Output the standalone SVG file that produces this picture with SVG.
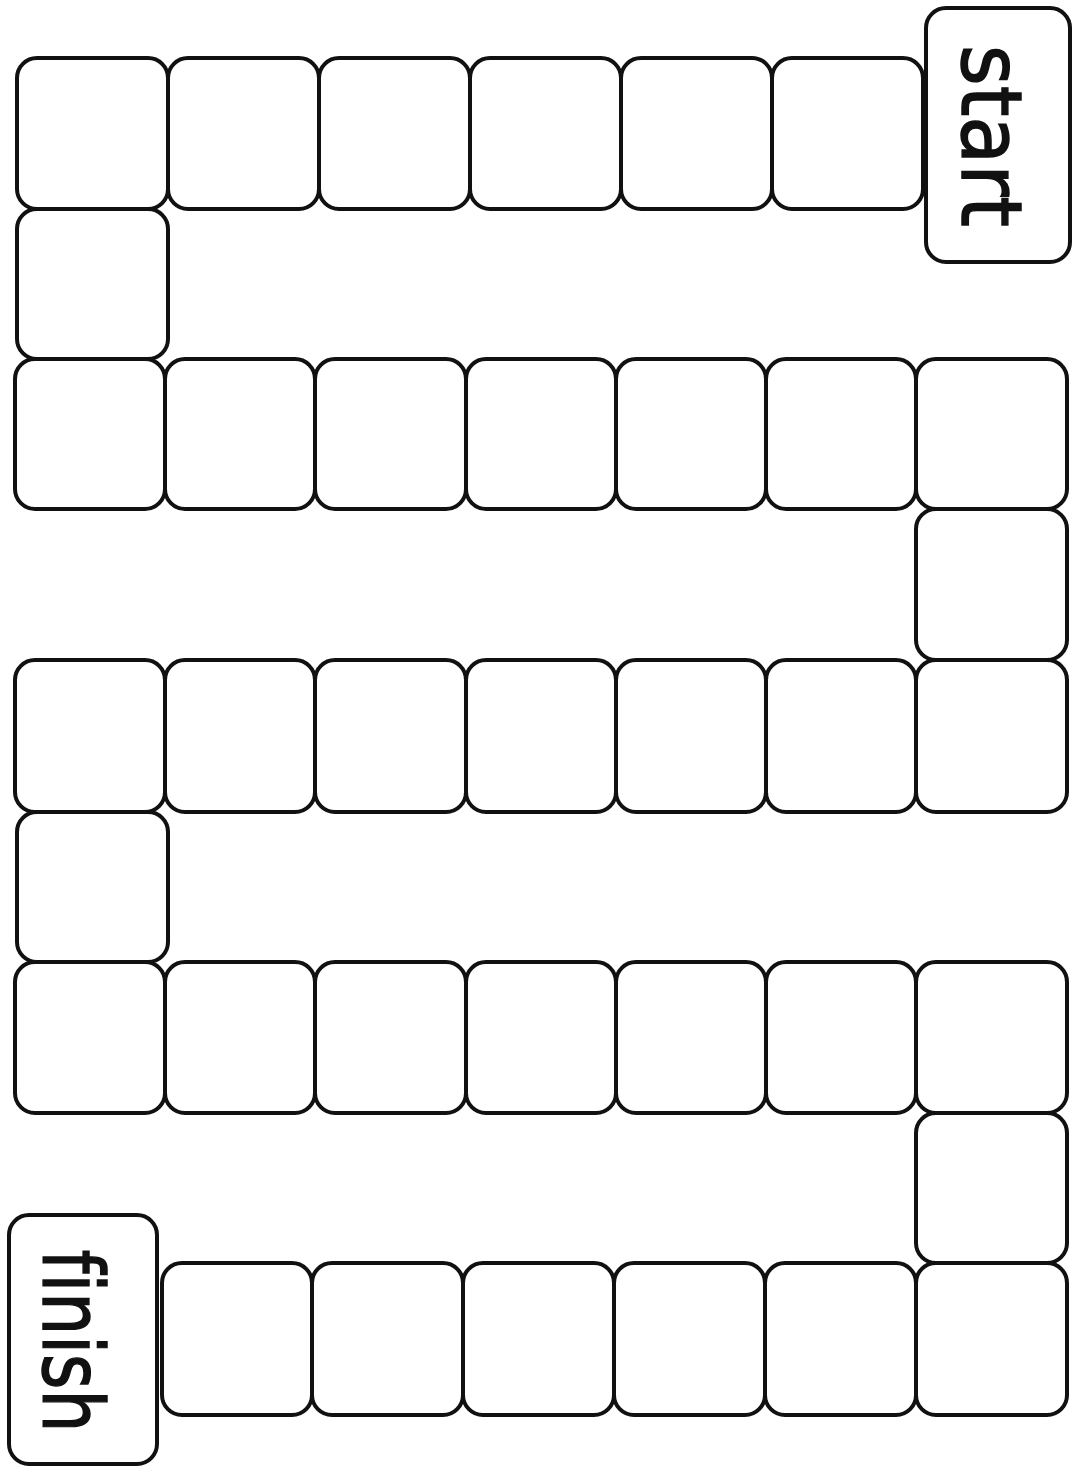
<svg xmlns="http://www.w3.org/2000/svg" width="1073" height="1466" viewBox="0 0 1073 1466">
<style>
.b{fill:#fff;stroke:#111;stroke-width:4}
.t{font-family:"DejaVu Sans","Liberation Sans",sans-serif;font-size:84px;fill:#111;stroke:#111;stroke-width:1.5;text-anchor:middle;font-variant-ligatures:none;font-feature-settings:"liga" 0}
</style>
<rect width="1073" height="1466" fill="#fff"/>
<g id="row1">
<rect class="b" x="17" y="58" width="151" height="151" rx="20"/>
<rect class="b" x="168" y="58" width="151" height="151" rx="20"/>
<rect class="b" x="319" y="58" width="151" height="151" rx="20"/>
<rect class="b" x="470" y="58" width="151" height="151" rx="20"/>
<rect class="b" x="621" y="58" width="151" height="151" rx="20"/>
<rect class="b" x="772" y="58" width="151" height="151" rx="20"/>
</g>
<g id="start">
<rect class="b" x="926" y="8" width="144" height="254" rx="20"/>
<text class="t" transform="translate(962,136) rotate(90)" textLength="182" lengthAdjust="spacingAndGlyphs">start</text>
</g>
<g id="row2">
<rect class="b" x="17" y="209" width="151" height="150" rx="20"/>
</g>
<g id="row3">
<rect class="b" x="15" y="359" width="150" height="150" rx="20"/>
<rect class="b" x="165" y="359" width="150" height="150" rx="20"/>
<rect class="b" x="315" y="359" width="151" height="150" rx="20"/>
<rect class="b" x="466" y="359" width="150" height="150" rx="20"/>
<rect class="b" x="616" y="359" width="150" height="150" rx="20"/>
<rect class="b" x="766" y="359" width="150" height="150" rx="20"/>
<rect class="b" x="916" y="359" width="151" height="150" rx="20"/>
</g>
<g id="row4">
<rect class="b" x="916" y="509" width="151" height="151" rx="20"/>
</g>
<g id="row5">
<rect class="b" x="15" y="660" width="150" height="152" rx="20"/>
<rect class="b" x="165" y="660" width="150" height="152" rx="20"/>
<rect class="b" x="315" y="660" width="151" height="152" rx="20"/>
<rect class="b" x="466" y="660" width="150" height="152" rx="20"/>
<rect class="b" x="616" y="660" width="150" height="152" rx="20"/>
<rect class="b" x="766" y="660" width="150" height="152" rx="20"/>
<rect class="b" x="916" y="660" width="151" height="152" rx="20"/>
</g>
<g id="row6">
<rect class="b" x="17" y="812" width="151" height="150" rx="20"/>
</g>
<g id="row7">
<rect class="b" x="15" y="962" width="150" height="151" rx="20"/>
<rect class="b" x="165" y="962" width="150" height="151" rx="20"/>
<rect class="b" x="315" y="962" width="151" height="151" rx="20"/>
<rect class="b" x="466" y="962" width="150" height="151" rx="20"/>
<rect class="b" x="616" y="962" width="150" height="151" rx="20"/>
<rect class="b" x="766" y="962" width="150" height="151" rx="20"/>
<rect class="b" x="916" y="962" width="151" height="151" rx="20"/>
</g>
<g id="row8">
<rect class="b" x="916" y="1113" width="151" height="150" rx="20"/>
</g>
<g id="row9">
<rect class="b" x="162" y="1263" width="150" height="152" rx="20"/>
<rect class="b" x="312" y="1263" width="151" height="152" rx="20"/>
<rect class="b" x="463" y="1263" width="151" height="152" rx="20"/>
<rect class="b" x="614" y="1263" width="151" height="152" rx="20"/>
<rect class="b" x="765" y="1263" width="151" height="152" rx="20"/>
<rect class="b" x="916" y="1263" width="151" height="152" rx="20"/>
</g>
<g id="finish">
<rect class="b" x="9" y="1215" width="148" height="249" rx="20"/>
<text class="t" transform="translate(43,1341) rotate(90)" textLength="183" lengthAdjust="spacingAndGlyphs">finish</text>
</g>
</svg>
